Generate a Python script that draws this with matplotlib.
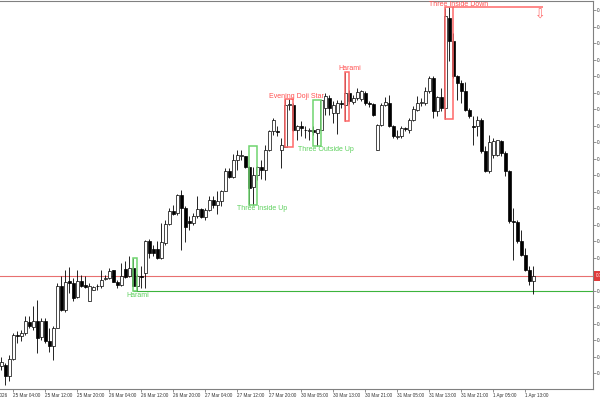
import numpy as np
import matplotlib
matplotlib.use("Agg")
from matplotlib import pyplot as plt
from matplotlib.patches import Rectangle

plt.rcParams['font.family'] = ['Liberation Sans', 'DejaVu Sans']

# hourly candles, 25 Mar 01:00 .. 1 Apr 14:00
opens = [0.70335, 0.7035, 0.70235, 0.70405, 0.7065, 0.70635, 0.7067, 0.70775, 0.70725, 0.70785,
         0.7063, 0.7079, 0.70585, 0.70535, 0.70715, 0.7114, 0.709, 0.7119, 0.7117, 0.71025,
         0.7119, 0.71145, 0.7099, 0.711, 0.7114, 0.7114, 0.7121, 0.71215, 0.71295, 0.7118,
         0.7115, 0.7131, 0.71235, 0.71315, 0.71135, 0.71235, 0.71265, 0.7159, 0.71505, 0.71505,
         0.71415, 0.71565, 0.71755, 0.7189, 0.71865, 0.7205, 0.71915, 0.7179, 0.71765, 0.71835,
         0.71905, 0.71825, 0.719, 0.72, 0.7195, 0.71985, 0.7209, 0.7229, 0.72225, 0.724,
         0.72435, 0.72435, 0.72325, 0.72125, 0.7225, 0.72325, 0.723, 0.725, 0.72685, 0.7269,
         0.725, 0.7253, 0.7295, 0.7295, 0.72695, 0.72735, 0.727, 0.72685, 0.727, 0.7267,
         0.727, 0.72915, 0.73015, 0.72865, 0.7287, 0.7297, 0.7295, 0.73065, 0.7298, 0.73015,
         0.7301, 0.7307, 0.72965, 0.72955, 0.725, 0.7275, 0.7295, 0.7297, 0.72735, 0.7263,
         0.72635, 0.72715, 0.727, 0.728, 0.729, 0.7297, 0.72965, 0.73085, 0.73215, 0.72885,
         0.73025, 0.72915, 0.73815, 0.73585, 0.73235, 0.73165, 0.73085, 0.729, 0.72735, 0.72735,
         0.728, 0.72485, 0.72285, 0.7245, 0.7245, 0.72585, 0.72465, 0.72285, 0.71785, 0.71775,
         0.71585, 0.7145, 0.713, 0.71185]
highs = [0.7043, 0.7037, 0.7045, 0.7067, 0.70685, 0.707, 0.70835, 0.70835, 0.70935, 0.70995,
         0.7082, 0.7082, 0.7072, 0.70735, 0.7117, 0.71235, 0.71295, 0.71325, 0.7122, 0.713,
         0.7125, 0.7124, 0.71165, 0.7114, 0.7116, 0.713, 0.7125, 0.71315, 0.713, 0.712,
         0.71365, 0.71385, 0.7144, 0.71415, 0.7126, 0.71335, 0.716, 0.71605, 0.7155, 0.71585,
         0.71765, 0.718, 0.71915, 0.7195, 0.72055, 0.72095, 0.71935, 0.71835, 0.71865, 0.72035,
         0.71915, 0.71915, 0.72035, 0.7204, 0.72085, 0.721, 0.72315, 0.72315, 0.7246, 0.725,
         0.725, 0.7244, 0.72335, 0.72325, 0.7234, 0.724, 0.7255, 0.727, 0.72815, 0.72735,
         0.7262, 0.73005, 0.73005, 0.7297, 0.7275, 0.72785, 0.72735, 0.7272, 0.7274, 0.7271,
         0.73, 0.7307, 0.7305, 0.72985, 0.73, 0.73, 0.7328, 0.731, 0.7305, 0.7312,
         0.731, 0.7309, 0.7299, 0.7297, 0.7276, 0.7297, 0.7303, 0.7305, 0.7275, 0.727,
         0.72735, 0.72725, 0.72815, 0.72935, 0.73035, 0.73015, 0.73125, 0.73235, 0.7324, 0.73035,
         0.73115, 0.73915, 0.73925, 0.7367, 0.7325, 0.732, 0.7318, 0.72915, 0.72835, 0.72835,
         0.72815, 0.72535, 0.7265, 0.72615, 0.726, 0.726, 0.72485, 0.723, 0.71915, 0.718,
         0.717, 0.71515, 0.71335, 0.71335]
lows = [0.703, 0.7015, 0.70185, 0.704, 0.7057, 0.70585, 0.7065, 0.7072, 0.707, 0.70465,
        0.706, 0.70565, 0.70475, 0.704, 0.70715, 0.70885, 0.70875, 0.71065, 0.70985, 0.71015,
        0.7113, 0.71115, 0.70985, 0.71095, 0.711, 0.71115, 0.712, 0.71205, 0.71175, 0.71115,
        0.71135, 0.71215, 0.71225, 0.71135, 0.71085, 0.71115, 0.7112, 0.71415, 0.71435, 0.71405,
        0.71405, 0.7155, 0.71745, 0.7185, 0.7185, 0.715, 0.71575, 0.717, 0.7175, 0.71815,
        0.71815, 0.718, 0.71885, 0.71915, 0.7186, 0.71935, 0.72085, 0.72215, 0.72215, 0.723,
        0.724, 0.72315, 0.7195, 0.7195, 0.722, 0.72205, 0.722, 0.72485, 0.7265, 0.72635,
        0.7232, 0.72525, 0.729, 0.7269, 0.726, 0.72635, 0.72615, 0.726, 0.7265, 0.7254,
        0.72695, 0.7285, 0.7285, 0.72765, 0.7266, 0.7292, 0.7279, 0.7296, 0.72955, 0.73,
        0.7299, 0.7295, 0.7293, 0.72835, 0.72495, 0.7274, 0.7294, 0.7273, 0.7262, 0.7261,
        0.72615, 0.7269, 0.72665, 0.72785, 0.72885, 0.72935, 0.7295, 0.73065, 0.72815, 0.72835,
        0.72885, 0.7281, 0.73385, 0.7322, 0.73, 0.7297, 0.72885, 0.72815, 0.7255, 0.72635,
        0.72465, 0.72275, 0.72265, 0.72415, 0.72435, 0.72435, 0.72235, 0.71765, 0.714, 0.71565,
        0.71435, 0.71285, 0.7115, 0.7106]
closes = [0.70375, 0.70235, 0.70405, 0.7065, 0.70635, 0.7067, 0.70785, 0.70735, 0.70785, 0.7062,
          0.70785, 0.70585, 0.70535, 0.70715, 0.7114, 0.70895, 0.7118, 0.7117, 0.71015, 0.7119,
          0.7114, 0.71125, 0.71135, 0.7113, 0.71135, 0.712, 0.71215, 0.71285, 0.7118, 0.71145,
          0.71235, 0.7123, 0.71315, 0.7114, 0.71235, 0.71225, 0.7159, 0.71465, 0.71465, 0.71415,
          0.71575, 0.71755, 0.7189, 0.7186, 0.7205, 0.71915, 0.71725, 0.71765, 0.7184, 0.71905,
          0.71825, 0.719, 0.72, 0.7195, 0.71985, 0.7209, 0.72285, 0.72225, 0.724, 0.7245,
          0.7245, 0.72325, 0.72115, 0.7225, 0.72325, 0.72295, 0.725, 0.72685, 0.728, 0.7268,
          0.7255, 0.7295, 0.7296, 0.727, 0.72735, 0.72715, 0.72695, 0.72695, 0.72675, 0.72705,
          0.73, 0.7304, 0.72915, 0.7295, 0.7297, 0.7296, 0.73065, 0.72985, 0.7302, 0.7308,
          0.73085, 0.7297, 0.72955, 0.7285, 0.7275, 0.7295, 0.72975, 0.72735, 0.72635, 0.72635,
          0.72715, 0.72705, 0.728, 0.72905, 0.72965, 0.72975, 0.73085, 0.73215, 0.72885, 0.73025,
          0.72915, 0.73835, 0.73585, 0.73235, 0.73165, 0.73085, 0.729, 0.72835, 0.72725, 0.72795,
          0.72485, 0.72285, 0.72575, 0.72585, 0.72595, 0.72465, 0.72285, 0.71785, 0.71775, 0.71585,
          0.7145, 0.713, 0.71185, 0.7124]

time_ticks = [3, 11, 19, 27, 35, 43, 51, 59, 67, 75, 83, 91, 99, 107, 115, 123, 131]
time_labels = ["25 Mar 04:00", "25 Mar 12:00", "25 Mar 20:00", "26 Mar 04:00", "26 Mar 12:00",
               "26 Mar 20:00", "27 Mar 04:00", "27 Mar 12:00", "27 Mar 20:00", "30 Mar 05:00",
               "30 Mar 13:00", "30 Mar 21:00", "31 Mar 05:00", "31 Mar 13:00", "31 Mar 21:00",
               "1 Apr 05:00", "1 Apr 13:00"]

bid = 0.7124

# candle patterns found by the indicator
pat_names = ["Harami", "Three Inside Up", "Evening Doji Star", "Three Outside Up", "Harami", "Three Inside Down"]
pat_first = [33, 62, 71, 78, 86, 111]
pat_last = [34, 64, 73, 80, 87, 113]
pat_top = [0.71415, 0.7254, 0.73005, 0.73, 0.7328, 0.73925]
pat_bottom = [0.71085, 0.7195, 0.72525, 0.7254, 0.7279, 0.7281]
pat_bull = [True, True, False, True, False, False]
label_dx = [3, 9, 7, 9, 3, 9.5]   # px shift of each label

RED = '#ff6868'
GREEN = '#6fd46f'

fig = plt.figure(figsize=(6, 4), dpi=100)
ax = fig.add_axes([0, 11 / 400, 593 / 600, 388 / 400])

o = np.array(opens)
h = np.array(highs)
l = np.array(lows)
c = np.array(closes)
idx = np.arange(len(o))
up = c >= o

ax.axhline(bid, color='#e87070', lw=0.8, zorder=1)
ax.hlines(pat_bottom[0], pat_first[0], 148, color='#3cb43c', lw=0.8, zorder=1)

ax.vlines(idx, l, h, color='black', lw=0.6, zorder=2)
ax.bar(idx[up], (c - o)[up], bottom=o[up], width=0.75, facecolor='white',
       edgecolor='black', linewidth=0.5, zorder=3)
ax.bar(idx[~up], (o - c)[~up], bottom=c[~up], width=0.75, facecolor='black',
       edgecolor='black', linewidth=0.5, zorder=3)

for i in range(len(pat_names)):
    col = GREEN if pat_bull[i] else RED
    ax.add_patch(Rectangle((pat_first[i], pat_bottom[i]), pat_last[i] - pat_first[i],
                           pat_top[i] - pat_bottom[i], fill=False, edgecolor=col, lw=1.1, zorder=4))
    xc = (pat_first[i] + pat_last[i]) / 2
    if pat_bull[i]:
        ax.annotate(pat_names[i], (xc, pat_bottom[i]), xytext=(label_dx[i] * 0.72, -2.7),
                    textcoords='offset points', ha='center', va='center', fontsize=5,
                    color='#5cd05c', zorder=5)
    else:
        ax.annotate(pat_names[i], (xc, pat_top[i]), xytext=(label_dx[i] * 0.72, 2.5),
                    textcoords='offset points', ha='center', va='center', fontsize=5,
                    color='#ff5050', zorder=5)

# sell signal line and arrow of the last pattern
ax.hlines(pat_top[-1], pat_last[-1], 135.5, color=RED, lw=1.1, zorder=4)
ax.annotate("\u21e9", (134.9, pat_top[-1]), xytext=(0, -5.8), textcoords='offset points',
            ha='center', va='center', fontsize=9, color=RED, family=['DejaVu Sans'])

ax.set_xlim(-0.25, 148)
ax.set_ylim(0.7011, 0.7399)

for s in ['top', 'right', 'bottom']:
    ax.spines[s].set_color('#808080')
    ax.spines[s].set_linewidth(0.8)
ax.spines['left'].set_visible(False)

ax.yaxis.tick_right()
yt = np.round(0.73895 - 0.00165 * np.arange(23), 5)
ax.set_yticks(yt)
ax.set_yticklabels([f"{v:.5f}" for v in yt])
ax.tick_params(axis='y', direction='out', length=2, width=0.6, pad=0.8, color='#808080',
               labelsize=3.3, labelcolor='#333333')

ax.set_xticks(time_ticks)
ax.set_xticklabels(time_labels, ha='left')
ax.tick_params(axis='x', direction='out', length=2.5, width=0.6, pad=0.5, color='#808080',
               labelsize=3.3, labelcolor='#333333')
ax.annotate("25 Mar 2026", (-5, 0), xycoords=ax.get_xaxis_transform(), xytext=(0, -3),
            textcoords='offset points', ha='left', va='top', fontsize=3.3, color='#333333',
            annotation_clip=False)

# current price tag on the price scale
ax.annotate(f"{bid:.5f}", (1, bid), xycoords=('axes fraction', 'data'), xytext=(2.4, 0),
            textcoords='offset points', ha='left', va='center', fontsize=3.3, color='white',
            bbox=dict(boxstyle='square,pad=0.5', fc='#e03c3c', ec='none'),
            annotation_clip=False)

fig.savefig("out.png", dpi=100)
